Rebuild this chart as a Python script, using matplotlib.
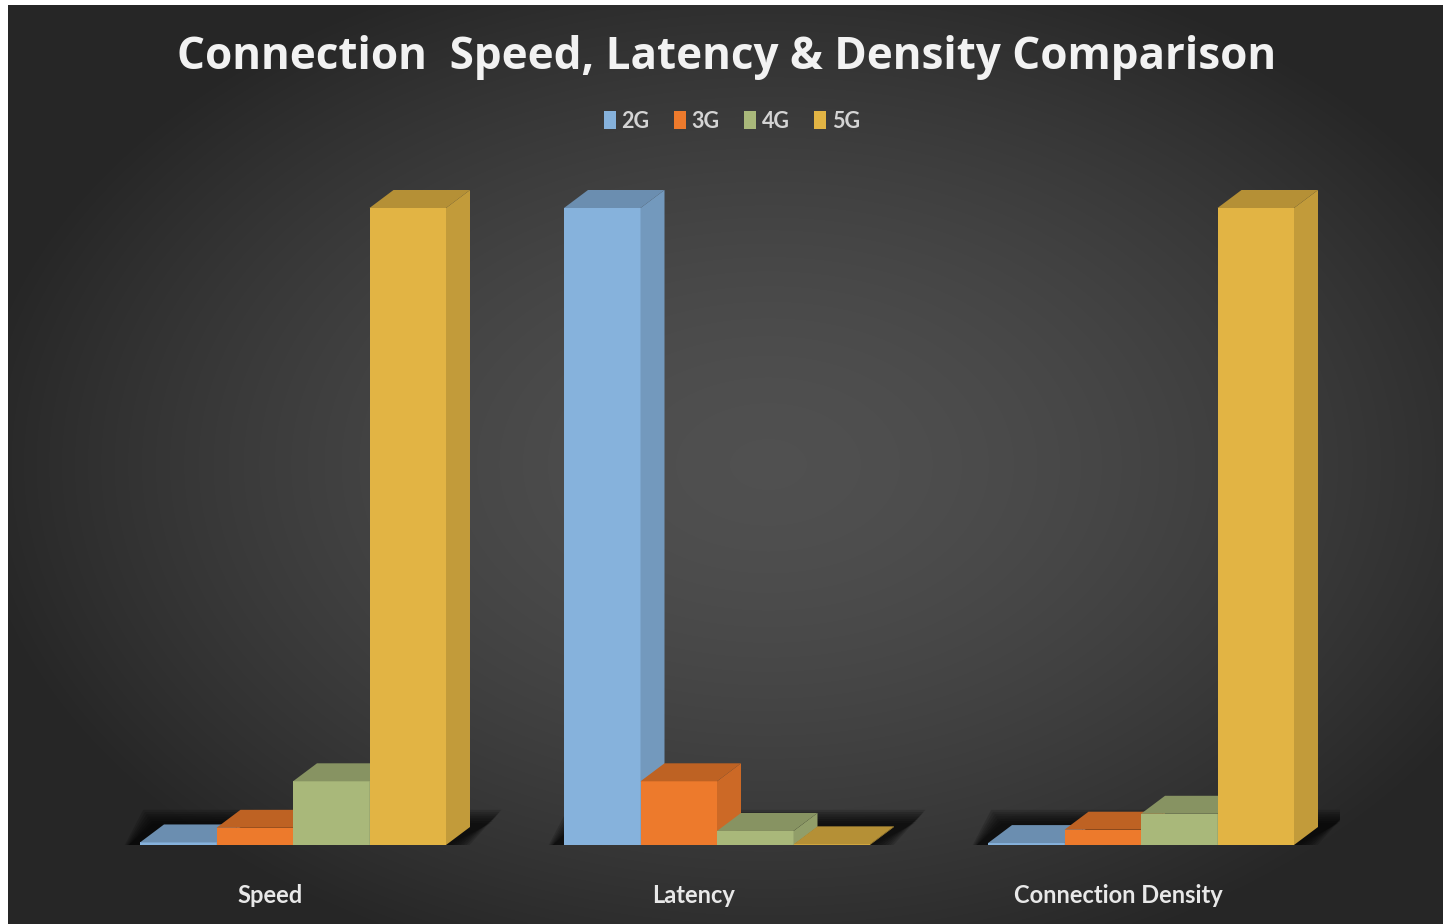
import numpy as np
import matplotlib
matplotlib.use("Agg")
import matplotlib.pyplot as plt
from matplotlib.patches import Polygon, Patch
from matplotlib import transforms
from matplotlib.colors import to_rgb

# ---- data (relative index, largest value in each metric = 100) ----
categories = ["Speed", "Latency", "Connection Density"]
series_names = ["2G", "3G", "4G", "5G"]
vals_2g = [0.4, 100.0, 0.3]
vals_3g = [2.7, 10.0, 2.4]
vals_4g = [10.0, 2.2, 4.9]
vals_5g = [100.0, 0.1, 100.0]
series_values = [vals_2g, vals_3g, vals_4g, vals_5g]
series_colors = ["#86b2dc", "#ed7a2c", "#a9b87a", "#e2b444"]

TITLE = "Connection  Speed, Latency & Density Comparison"

W, H, DPI = 1443, 924, 100
FONT = "Lato"
TITLE_FONT = "Open Sans"

fig = plt.figure(figsize=(W / DPI, H / DPI), dpi=DPI, facecolor="white")

# ---- dark radial-gradient chart area ----
bg = fig.add_axes([8 / W, 0, 1 - 8 / W, (H - 5) / H], zorder=-10)
yy, xx = np.mgrid[0:1:400j, 0:1:600j]
r = np.sqrt(((xx - 0.53) / 0.56) ** 2 + ((yy - 0.50) / 0.58) ** 2)
shade = 0.15 + 0.165 * np.clip(1 - r ** 1.6, 0, 1)
bg.imshow(np.dstack([shade, shade, shade]), aspect="auto", extent=(0, 1, 0, 1),
          interpolation="bicubic")
bg.set_axis_off()

# ---- plotting axes ----
ax_left, ax_right, ax_top, ax_base = 100, 1340, 160, 845
ax = fig.add_axes([ax_left / W, (H - ax_base) / H,
                   (ax_right - ax_left) / W, (ax_base - ax_top) / H])
ax.patch.set_alpha(0)
for s in ax.spines.values():
    s.set_visible(False)

group_px = 424.0          # pixel distance between category groups
center0_px = 293.0        # pixel x of first group centre
full_px = 637.0           # pixel height of value 100
ax.set_xlim((ax_left - center0_px) / group_px, (ax_right - center0_px) / group_px)
ax.set_ylim(0, (ax_base - ax_top) / full_px * 100)

bw = 76.5 / group_px
n = len(series_names)

# depth of the pseudo-3D extrusion, converted from pixels to data units
depth_dx_px, depth_dy_px = 24, 18
inv = ax.transData.inverted()
p0 = inv.transform((0, 0))
p1 = inv.transform((depth_dx_px, depth_dy_px))
dx, dy = p1 - p0


def darker(c, f):
    r_, g_, b_ = to_rgb(c)
    return (r_ * f, g_ * f, b_ * f)


x_idx = np.arange(len(categories))

# soft floor shadow under each group
for gi in x_idx:
    xg0 = gi - n / 2 * bw
    xg1 = gi + n / 2 * bw
    for k in range(7):
        e = 0.004 * k
        ey = 0.35 * k
        poly = [(xg0 - 0.03 - e, -0.2 - ey), (xg1 + e, -0.2 - ey),
                (xg1 + dx + 0.05 + e, dy + 0.6 + ey), (xg0 + dx - 0.025 - e, dy + 0.6 + ey)]
        ax.add_patch(Polygon(poly, closed=True, facecolor="black", alpha=0.15,
                             edgecolor="none", zorder=5))

# bars: front faces with the library, then top and side faces
for j, (vals, col) in enumerate(zip(series_values, series_colors)):
    xs = x_idx + (j - (n - 1) / 2) * bw
    bars = ax.bar(xs, vals, width=bw, color=col, linewidth=0, zorder=10 + 3 * j,
                  label=series_names[j])
    for rect in bars:
        x0 = rect.get_x()
        x1 = x0 + rect.get_width()
        h = rect.get_height()
        top = [(x0, h), (x1, h), (x1 + dx, h + dy), (x0 + dx, h + dy)]
        side = [(x1, 0), (x1 + dx, dy), (x1 + dx, h + dy), (x1, h)]
        ax.add_patch(Polygon(side, closed=True, facecolor=darker(col, 0.86),
                             edgecolor="none", zorder=11 + 3 * j))
        ax.add_patch(Polygon(top, closed=True, facecolor=darker(col, 0.80),
                             edgecolor="none", zorder=11 + 3 * j))

ax.set_yticks([])
ax.set_xticks(x_idx, categories)
ax.tick_params(axis="x", length=0, pad=28, labelsize=17, labelcolor="#e8e8e8")
shift = transforms.ScaledTranslation(-23 / DPI, 0, fig.dpi_scale_trans)
for lbl in ax.get_xticklabels():
    lbl.set_fontfamily(FONT)
    lbl.set_fontweight("bold")
    lbl.set_transform(lbl.get_transform() + shift)

# ---- title and legend ----
fig.text(727 / W, 1 - 58 / H, TITLE, ha="center", va="center", fontsize=31.7,
         fontweight="bold", color="#f2f2f2", family=TITLE_FONT)

handles = [Patch(facecolor=c, edgecolor="none", label=nm)
           for nm, c in zip(series_names, series_colors)]
fig.legend(handles=handles, loc="center", bbox_to_anchor=(732 / W, 1 - 121 / H),
           ncol=4, frameon=False, handlelength=0.55, handleheight=0.9,
           handletextpad=0.25, columnspacing=1.15, labelcolor="#d4d4d4",
           prop=dict(family=FONT, weight="bold", size=15.5))

fig.savefig("out.png", dpi=DPI, facecolor=fig.get_facecolor())
